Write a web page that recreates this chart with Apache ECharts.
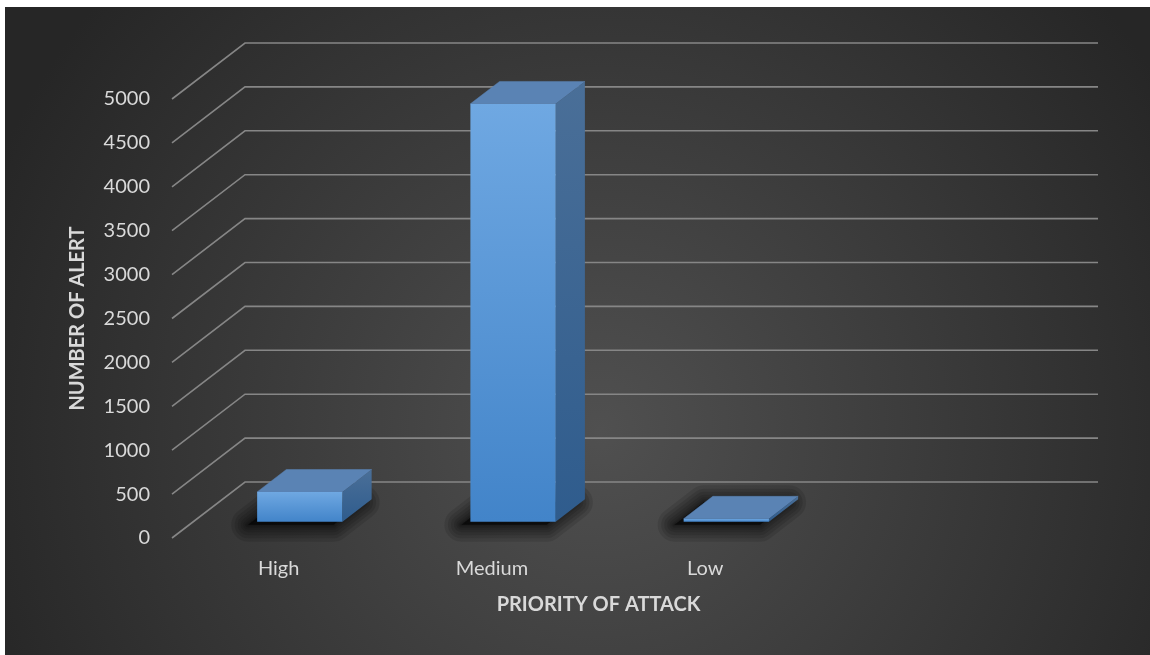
<!DOCTYPE html>
<html>
<head>
<meta charset="utf-8">
<script src="https://cdn.jsdelivr.net/npm/echarts@6/dist/echarts.min.js"></script>
<style>
  html, body { margin: 0; padding: 0; background: #ffffff; }
  #chart { width: 1150px; height: 655px; }
</style>
</head>
<body>
<div id="chart"></div>
<script>
// Alert counts per attack priority (last slot is an empty category column)
const categories = ['High', 'Medium', 'Low', ''];
const alerts = [340, 4760, 35];
const yTicks = [0, 500, 1000, 1500, 2000, 2500, 3000, 3500, 4000, 4500, 5000];

// Oblique depth of the floor (pixels) and where the columns sit inside it
const DX = 73, DY = -56;
const F0 = 0.29, F1 = 0.69;
const BAR_RATIO = 0.4;

// stroke widths of the stacked layers that make up the soft floor shadow
const SHADOW_LAYERS = [34, 27, 21, 15, 10, 6, 3];

const FONT = 'Lato';
const TEXT = '#d9d9d9';

function renderGridLine(params, api) {
  const cs = params.coordSys;
  const y = api.coord([0, api.value(1)])[1];
  const x0 = cs.x, x1 = cs.x + cs.width;
  return {
    type: 'polyline',
    silent: true,
    shape: { points: [[x0, y], [x0 + DX, y + DY], [x1 + DX, y + DY]] },
    style: { stroke: '#868686', lineWidth: 1.6, fill: null }
  };
}

function renderBar(params, api) {
  const idx = api.value(0), val = api.value(1);
  const base = api.coord([idx, 0]);
  const top = api.coord([idx, val]);
  const w = api.size([1, 0])[0] * BAR_RATIO;
  const xl = base[0] - w / 2, xr = base[0] + w / 2;
  const y0 = base[1], y1 = top[1];
  const ax = DX * F0, ay = DY * F0, bx = DX * F1, by = DY * F1;

  // soft floor shadow cast to the lower left of the column
  const sx = -9, sy = 3;
  const footprint = [
    [xl + ax + sx, y0 + ay + sy], [xr + ax + sx, y0 + ay + sy],
    [xr + bx + sx, y0 + by + sy], [xl + bx + sx, y0 + by + sy]
  ];
  const shadow = SHADOW_LAYERS.map(lw => ({
    type: 'polygon',
    silent: true,
    shape: { points: footprint },
    style: {
      fill: 'rgba(0,0,0,0.1)',
      stroke: 'rgba(0,0,0,0.11)',
      lineWidth: lw,
      lineJoin: 'round'
    }
  }));
  const topFace = {
    type: 'polygon',
    shape: { points: [
      [xl + ax, y1 + ay], [xr + ax, y1 + ay], [xr + bx, y1 + by], [xl + bx, y1 + by]
    ] },
    style: { fill: '#5a83b4', stroke: '#5a83b4', lineWidth: 0.5 }
  };
  const sideFace = {
    type: 'polygon',
    shape: { points: [
      [xr + ax, y1 + ay], [xr + bx, y1 + by], [xr + bx, y0 + by], [xr + ax, y0 + ay]
    ] },
    style: {
      fill: new echarts.graphic.LinearGradient(0, 0, 0, 1, [
        { offset: 0, color: '#4a6f98' },
        { offset: 1, color: '#2f5c8d' }
      ]),
      stroke: null
    }
  };
  const frontFace = {
    type: 'rect',
    shape: { x: xl + ax, y: y1 + ay, width: w, height: Math.max(y0 - y1, 1) },
    style: {
      fill: new echarts.graphic.LinearGradient(0, 0, 0, 1, [
        { offset: 0, color: '#6fa8e2' },
        { offset: 1, color: '#4284c9' }
      ]),
      stroke: null
    }
  };
  return { type: 'group', children: shadow.concat([topFace, sideFace, frontFace]) };
}

const chart = echarts.init(document.getElementById('chart'), null, { renderer: 'canvas' });

chart.setOption({
  backgroundColor: 'transparent',
  animation: false,
  graphic: [{
    type: 'rect',
    z: -10,
    silent: true,
    shape: { x: 5, y: 7, width: 1145, height: 648 },
    style: {
      fill: new echarts.graphic.RadialGradient(600, 430, 660, [
        { offset: 0, color: '#505050' },
        { offset: 1, color: '#262626' }
      ], true)
    }
  }],
  grid: { left: 172, top: 99, width: 853, height: 439, containLabel: false },
  xAxis: {
    type: 'category',
    data: categories,
    axisLine: { show: false },
    axisTick: { show: false },
    splitLine: { show: false },
    axisLabel: { color: TEXT, fontFamily: FONT, fontSize: 20, margin: 21 },
    name: 'PRIORITY OF ATTACK',
    nameLocation: 'middle',
    nameGap: 57,
    nameTextStyle: { color: TEXT, fontFamily: FONT, fontSize: 20, fontWeight: 'bold' }
  },
  yAxis: {
    type: 'value',
    min: 0,
    max: 5000,
    interval: 500,
    axisLine: { show: false },
    axisTick: { show: false },
    splitLine: { show: false },
    axisLabel: {
      color: TEXT, fontFamily: FONT, fontSize: 20, margin: 22,
      formatter: v => String(v)
    },
    name: 'NUMBER OF ALERT',
    nameLocation: 'middle',
    nameRotate: 90,
    nameGap: 84,
    nameTextStyle: { color: TEXT, fontFamily: FONT, fontSize: 20, fontWeight: 'bold' }
  },
  series: [
    {
      type: 'custom',
      name: 'grid',
      silent: true,
      z: 1,
      renderItem: renderGridLine,
      data: yTicks.map(v => [0, v])
    },
    {
      type: 'custom',
      name: 'Alerts',
      z: 3,
      renderItem: renderBar,
      data: alerts.map((v, i) => [i, v])
    }
  ]
});
</script>
</body>
</html>
